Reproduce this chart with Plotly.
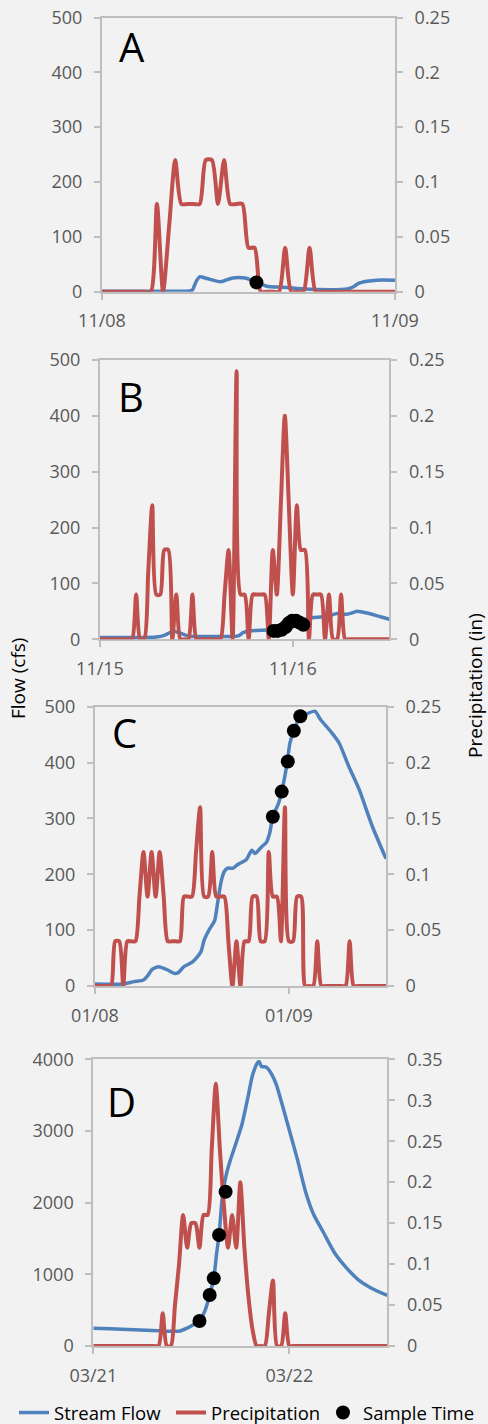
import numpy as np
import pandas as pd
import plotly.graph_objects as go

W, H = 488, 1424

# ---------------- data ----------------
panel_labels = ["A", "B", "C", "D"]
panel_starts = ["2014-11-08", "2014-11-15", "2015-01-08", "2015-03-21"]
panel_hours = [24, 36, 36, 36]
tick_labels = [["11/08", "11/09"], ["11/15", "11/16"], ["01/08", "01/09"], ["03/21", "03/22"]]
flow_max = [500, 500, 500, 4000]
flow_dtick = [100, 100, 100, 1000]
precip_max = [0.25, 0.25, 0.25, 0.35]
precip_step_h = 0.5  # precipitation record interval (hours)

# Panel A (11/08)
a_flow_h = [0, 4, 7.0, 7.4, 7.7, 8.0, 8.6, 9.7, 10.7, 11.7, 12.7, 13.5, 14.8, 16.0, 17.6, 20.1, 20.6, 21.0, 21.7, 22.5, 24.0]
a_flow = [1, 1, 1, 3, 18, 27, 24, 18, 25, 25, 17, 10, 8, 6, 4, 5, 9, 15, 19, 21, 21]
a_precip = [0, 0, 0, 0, 0, 0, 0, 0, 0,
            0.08, 0, 0.06, 0.12, 0.08, 0.08, 0.08, 0.08, 0.12, 0.12, 0.08, 0.12, 0.08, 0.08, 0.08,
            0.04, 0.04, 0, 0, 0, 0, 0.04, 0, 0, 0, 0.04, 0,
            0, 0, 0, 0, 0, 0, 0, 0, 0, 0, 0, 0, 0]
a_sample_h = [12.65]
a_sample_flow = [17]

# Panel B (11/15)
b_flow_h = [0, 4, 7, 8, 8.7, 9.3, 10.0, 11.0, 12, 14, 16, 17.2, 17.8, 18.5, 20.0, 21.0, 21.6, 22.5, 23.5, 24.3,
            25.0, 25.7, 26.6, 27.5, 28.5, 29.5, 30.7, 31.5, 32.0, 33.2, 34.5, 35.0, 36.0]
b_flow = [3, 3, 4, 7, 12, 14, 11, 6, 5, 5, 5, 6, 12, 15, 16, 17, 15, 17, 28, 34,
          33, 37, 39, 40, 42, 46, 45, 48, 50, 47, 42, 40, 36]
b_precip = [0, 0, 0, 0, 0, 0, 0, 0, 0,
            0.04, 0, 0, 0.06, 0.12, 0.04, 0.04, 0.08, 0.08, 0, 0.04, 0, 0, 0, 0.04, 0,
            0, 0, 0, 0, 0, 0, 0.04, 0.08, 0, 0.24, 0.04, 0.04, 0, 0.04, 0.04, 0.04, 0.04,
            0, 0.08, 0.04, 0.12, 0.20, 0.12, 0.04, 0.12, 0.08, 0.08, 0, 0.04, 0.04, 0.04,
            0, 0.04, 0, 0, 0.04, 0,
            0, 0, 0, 0, 0, 0, 0, 0, 0, 0, 0]
b_sample_h = [21.6, 22.1, 22.6, 23.1, 23.5, 23.9, 24.4, 24.8, 25.3]
b_sample_flow = [15, 15, 17, 22, 29, 33, 33, 30, 26]

# Panel C (01/08)
c_flow_h = [0, 3.5, 4.8, 6.0, 6.5, 7.1, 7.9, 8.8, 9.8, 10.3, 11.0, 12.1, 13.1, 13.5, 14.1, 14.8, 15.1, 15.6,
            16.0, 16.4, 17.1, 17.7, 18.7, 19.4, 19.8, 20.6, 21.2, 21.6, 22.0, 22.7, 23.1, 23.8, 24.1, 24.6,
            25.4, 26.0, 27.2, 27.9, 29.3, 30.2, 31.4, 32.7, 34.3, 36.0]
c_flow = [3.6, 3.6, 7.8, 10.7, 18, 30, 34.6, 30, 22.7, 24, 34.6, 43.6, 61, 82, 100, 117, 142, 187,
          205, 211, 211, 218, 226, 243, 237, 249, 257, 273, 303, 327, 348, 402, 434, 457,
          483, 486, 492, 477, 453, 435, 393, 351, 286, 228]
c_precip = [0, 0, 0, 0, 0, 0.04, 0.04, 0, 0.04, 0.04, 0.04, 0.08, 0.12, 0.08, 0.12, 0.08, 0.12, 0.08,
            0.04, 0.04, 0.04, 0.04, 0.08, 0.08, 0.08, 0.12, 0.16, 0.08, 0.08, 0.12, 0.08, 0.08, 0.08,
            0.04, 0, 0.04, 0, 0.04, 0.04, 0.08, 0.08, 0.04, 0.04, 0.12, 0.08, 0.08, 0.04, 0.16, 0.04,
            0.04, 0.08, 0.08, 0, 0, 0, 0.04, 0, 0, 0, 0, 0, 0, 0, 0.04, 0,
            0, 0, 0, 0, 0, 0, 0, 0]
c_sample_h = [22.0, 23.1, 23.85, 24.6, 25.4]
c_sample_flow = [303, 348, 402, 457, 483]

# Panel D (03/21)
d_flow_h = [0, 2, 5, 8, 10.6, 11.5, 12.3, 13.0, 13.7, 14.25, 14.75, 15.1, 15.4, 15.8, 16.3, 16.8, 17.3, 18.2,
            18.9, 19.5, 20.1, 20.3, 20.6, 21.2, 21.8, 22.4, 23.3, 24.2, 25.0, 26.0, 27.0, 28.2, 29.6, 31.0,
            32.5, 34.0, 36.0]
d_flow = [247, 240, 225, 212, 209, 250, 300, 350, 500, 712, 944, 1290, 1550, 2080, 2400, 2600, 2770, 3090,
          3450, 3780, 3950, 3970, 3900, 3890, 3800, 3650, 3300, 2930, 2600, 2150, 1830, 1580, 1290, 1090,
          920, 810, 705]
d_precip = [0, 0, 0, 0, 0, 0, 0, 0, 0, 0, 0, 0, 0, 0, 0, 0, 0,
            0.04, 0, 0, 0.05, 0.10, 0.16, 0.12, 0.15, 0.15, 0.12, 0.16, 0.16, 0.24, 0.32, 0.24, 0.17,
            0.12, 0.16, 0.12, 0.20, 0.12, 0.06, 0.02, 0, 0, 0, 0.04, 0.08, 0, 0, 0.04, 0,
            0, 0, 0, 0, 0, 0, 0, 0, 0, 0, 0, 0, 0, 0, 0, 0, 0, 0, 0, 0, 0, 0, 0, 0]
d_sample_h = [13.0, 14.25, 14.75, 15.4, 16.2]
d_sample_flow = [349, 712, 944, 1549, 2153]

flows_h = [a_flow_h, b_flow_h, c_flow_h, d_flow_h]
flows = [a_flow, b_flow, c_flow, d_flow]
precips = [a_precip, b_precip, c_precip, d_precip]
samples_h = [a_sample_h, b_sample_h, c_sample_h, d_sample_h]
samples = [a_sample_flow, b_sample_flow, c_sample_flow, d_sample_flow]

# ---------------- layout geometry (pixels: left, top, right, bottom) ----------------
boxes = [(102, 17.5, 395, 291.7), (100, 360, 389.3, 639.3), (95, 706.7, 386, 986), (93.3, 1059.3, 387.3, 1346)]
letter_pos = [(131.5, 46), (131, 397), (125, 732.5), (121.7, 1101.7)]

FONT = "Open Sans"
TICK_GRAY = "#595959"
AXIS_GRAY = "#bfbfbf"
BLUE = "#4f81bd"
RED = "#c0504d"


def t(start, hours):
    return pd.Timestamp(start) + pd.to_timedelta(np.asarray(hours, dtype=float), unit="h")


fig = go.Figure()
layout = {}
for i in range(4):
    xn = i + 1
    y1, y2, y3 = 3 * i + 1, 3 * i + 2, 3 * i + 3
    xr = "x" if xn == 1 else f"x{xn}"
    yr = lambda n: "y" if n == 1 else f"y{n}"
    xa = "xaxis" if xn == 1 else f"xaxis{xn}"
    ya = lambda n: "yaxis" if n == 1 else f"yaxis{n}"
    L, T, R, B = boxes[i]
    start = panel_starts[i]
    tp = np.arange(len(precips[i])) * precip_step_h

    fig.add_trace(go.Scatter(
        x=t(start, flows_h[i]), y=flows[i], mode="lines", name="Stream Flow",
        line=dict(color=BLUE, width=3.5, shape="spline", smoothing=0.6),
        xaxis=xr, yaxis=yr(y1), showlegend=(i == 0), legend="legend", cliponaxis=False,
        hoverinfo="skip"))
    fig.add_trace(go.Scatter(
        x=t(start, tp), y=precips[i], mode="lines", name="Precipitation",
        line=dict(color=RED, width=4, shape="spline", smoothing=0.7),
        xaxis=xr, yaxis=yr(y2), showlegend=(i == 0), legend="legend2", cliponaxis=False,
        hoverinfo="skip"))
    fig.add_trace(go.Scatter(
        x=t(start, samples_h[i]), y=samples[i], mode="markers", name="Sample Time",
        marker=dict(color="black", size=14),
        xaxis=xr, yaxis=yr(y3), showlegend=(i == 0), legend="legend3", cliponaxis=False,
        hoverinfo="skip"))

    x0 = pd.Timestamp(start)
    x1 = x0 + pd.Timedelta(hours=panel_hours[i])
    layout[xa] = dict(
        domain=[L / W, R / W], anchor=yr(y1), range=[x0, x1], automargin=False,
        tickmode="array", tickvals=[x0, x0 + pd.Timedelta(days=1)], ticktext=tick_labels[i],
        ticks="outside", ticklen=6, tickcolor=AXIS_GRAY, tickwidth=1.5,
        showline=True, linecolor=AXIS_GRAY, linewidth=2, mirror=True,
        showgrid=False, zeroline=False, layer="below traces",
        tickfont=dict(family=FONT, size=18, color=TICK_GRAY), ticklabelstandoff=6)
    layout[ya(y1)] = dict(
        domain=[1 - B / H, 1 - T / H], anchor=xr, range=[0, flow_max[i]], automargin=False,
        tickmode="linear", tick0=0, dtick=flow_dtick[i],
        ticks="outside", ticklen=6, tickcolor=AXIS_GRAY, tickwidth=1.5,
        showline=True, linecolor=AXIS_GRAY, linewidth=2,
        showgrid=False, zeroline=False, layer="below traces",
        tickfont=dict(family=FONT, size=18, color=TICK_GRAY), ticklabelstandoff=8)
    layout[ya(y2)] = dict(
        overlaying=yr(y1), anchor=xr, side="right", range=[0, precip_max[i]], automargin=False,
        tickmode="linear", tick0=0, dtick=0.05,
        ticks="outside", ticklen=6, tickcolor=AXIS_GRAY, tickwidth=1.5,
        showline=True, linecolor=AXIS_GRAY, linewidth=2,
        showgrid=False, zeroline=False, layer="below traces",
        tickfont=dict(family=FONT, size=18, color=TICK_GRAY), ticklabelstandoff=8)
    layout[ya(y3)] = dict(overlaying=yr(y1), anchor=xr, range=[0, flow_max[i]], visible=False,
                          automargin=False)

annotations = []
for i, lab in enumerate(panel_labels):
    lx, ly = letter_pos[i]
    annotations.append(dict(text=lab, x=lx / W, y=1 - ly / H, xref="paper", yref="paper",
                            xanchor="center", yanchor="middle", showarrow=False,
                            font=dict(family=FONT, size=40, color="black")))
annotations.append(dict(text="Flow (cfs)", x=18 / W, y=1 - 679 / H, xref="paper", yref="paper",
                        xanchor="center", yanchor="middle", showarrow=False, textangle=-90,
                        font=dict(family=FONT, size=19, color="black")))
annotations.append(dict(text="Precipitation (in)", x=475 / W, y=1 - 686 / H, xref="paper", yref="paper",
                        xanchor="center", yanchor="middle", showarrow=False, textangle=-90,
                        font=dict(family=FONT, size=19, color="black")))

leg_common = dict(orientation="h", xanchor="left", yanchor="middle", y=1 - 1413 / H,
                  bgcolor="rgba(0,0,0,0)", borderwidth=0, itemwidth=30,
                  font=dict(family=FONT, size=18.5, color="black"))

fig.update_layout(
    width=W, height=H, autosize=False,
    margin=dict(l=0, r=0, t=0, b=0, pad=0, autoexpand=False),
    paper_bgcolor="#f2f2f2", plot_bgcolor="#f2f2f2",
    annotations=annotations,
    legend=dict(x=14 / W, **leg_common),
    legend2=dict(x=171 / W, **leg_common),
    legend3=dict(x=323 / W, **leg_common),
    **layout,
)

fig.write_html("out.html", include_plotlyjs=True, config={"displayModeBar": False},
               post_script="document.body.style.margin='0';document.body.style.overflow='hidden';")
